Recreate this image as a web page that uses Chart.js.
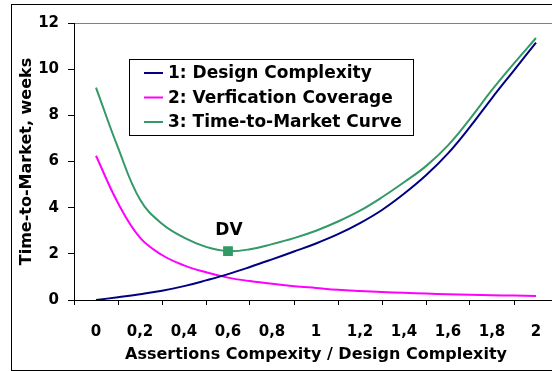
<!DOCTYPE html>
<html>
<head>
<meta charset="utf-8">
<script src="https://cdn.jsdelivr.net/npm/chart.js@4"></script>
<style>
  html, body { margin: 0; padding: 0; overflow: hidden; background: #fff; }
  #frame { position: absolute; left: 11px; top: 4px; width: 600px; height: 365px; border: 1px solid #000; }
</style>
</head>
<body>
<div id="frame"><canvas id="myChart" width="600" height="365"></canvas></div>
<script>
var xValues = [0, 0.1, 0.2, 0.3, 0.4, 0.5, 0.6, 0.7, 0.8, 0.9, 1, 1.1, 1.2, 1.3, 1.4, 1.5, 1.6, 1.7, 1.8, 1.9, 2];
var designComplexity = [0, 0.12, 0.25, 0.4, 0.6, 0.85, 1.12, 1.43, 1.76, 2.1, 2.45, 2.85, 3.33, 3.9, 4.6, 5.4, 6.35, 7.5, 8.75, 9.95, 11.15];
var verificationCoverage = [6.25, 4.2, 2.7, 1.95, 1.5, 1.2, 0.97, 0.82, 0.7, 0.6, 0.52, 0.44, 0.39, 0.35, 0.31, 0.28, 0.25, 0.23, 0.21, 0.19, 0.17];
var timeToMarket = [9.2, 6.6, 4.35, 3.3, 2.7, 2.3, 2.12, 2.2, 2.42, 2.68, 3.0, 3.4, 3.87, 4.45, 5.1, 5.8, 6.7, 7.85, 9.1, 10.25, 11.35];
var xTickLabels = ["0", "0,2", "0,4", "0,6", "0,8", "1", "1,2", "1,4", "1,6", "1,8", "2"];
var yTicks = [0, 2, 4, 6, 8, 10, 12];
var seriesNames = ["1: Design Complexity", "2: Verfication Coverage", "3: Time-to-Market Curve"];
var dvIndex = 6;

var FONT = "'DejaVu Sans', sans-serif";

function toPoints(ys) {
  return ys.map(function (y, i) { return { x: xValues[i], y: y }; });
}

var legendBox = {
  id: "legendBox",
  afterDraw: function (chart) {
    var ctx = chart.ctx;
    var left = 117, top = 54, w = 284, h = 76;
    ctx.save();
    ctx.fillStyle = "#fff";
    ctx.fillRect(left, top, w, h);
    ctx.strokeStyle = "#000";
    ctx.lineWidth = 1;
    ctx.strokeRect(left + 0.5, top + 0.5, w, h);
    ctx.font = "bold 17px " + FONT;
    ctx.textBaseline = "middle";
    chart.data.datasets.forEach(function (ds, i) {
      var y = top + 14 + i * 24.5;
      ctx.strokeStyle = ds.borderColor;
      ctx.lineWidth = 2;
      ctx.beginPath();
      ctx.moveTo(left + 15, y);
      ctx.lineTo(left + 34, y);
      ctx.stroke();
      ctx.fillStyle = "#000";
      ctx.fillText(ds.label, left + 39, y + 1);
    });

    // DV marker label
    var pt = chart.getDatasetMeta(2).data[dvIndex];
    ctx.textAlign = "center";
    ctx.fillText("DV", pt.x + 1, pt.y - 20);
    ctx.restore();
  }
};

var ctx2 = document.getElementById("myChart");

var myChart = new Chart(ctx2, {
  type: "line",
  data: {
    datasets: [
      {
        label: seriesNames[0],
        data: toPoints(designComplexity),
        borderColor: "#000080",
        borderWidth: 2,
        pointRadius: 0,
        tension: 0.4
      },
      {
        label: seriesNames[1],
        data: toPoints(verificationCoverage),
        borderColor: "#FF00FF",
        borderWidth: 2,
        pointRadius: 0,
        tension: 0.4
      },
      {
        label: seriesNames[2],
        data: toPoints(timeToMarket),
        borderColor: "#339966",
        backgroundColor: "#339966",
        borderWidth: 2,
        pointStyle: "rect",
        pointRadius: function (c) { return c.dataIndex === dvIndex ? 5.5 : 0; },
        tension: 0.4
      }
    ]
  },
  options: {
    responsive: false,
    animation: false,
    layout: { padding: { left: 0, top: 15, right: 54, bottom: 0 } },
    plugins: {
      legend: { display: false },
      tooltip: { enabled: false }
    },
    scales: {
      x: {
        type: "linear",
        min: -0.1,
        max: 2.1,
        afterBuildTicks: function (scale) {
          var ticks = [];
          for (var k = -1; k <= 21; k++) ticks.push({ value: k / 10 });
          scale.ticks = ticks;
        },
        afterFit: function (scale) { scale.height = 70; },
        border: { color: "#000", width: 1 },
        grid: {
          drawOnChartArea: false,
          tickLength: 5,
          tickColor: function (c) {
            var n = Math.round(c.tick.value * 10);
            return n % 2 === 0 ? "rgba(0,0,0,0)" : "#000";
          }
        },
        ticks: {
          autoSkip: false,
          maxRotation: 0,
          padding: 18,
          color: "#000",
          font: { family: FONT, size: 15, weight: "bold" },
          callback: function (value) {
            var n = Math.round(value * 10);
            if (n < 0 || n % 2 !== 0) return "";
            return xTickLabels[n / 2];
          }
        },
        title: {
          display: true,
          text: "Assertions Compexity / Design Complexity",
          color: "#000",
          font: { family: FONT, size: 16, weight: "bold" },
          padding: { top: 0, bottom: 6 }
        }
      },
      y: {
        min: 0,
        max: 12,
        afterBuildTicks: function (scale) {
          scale.ticks = yTicks.map(function (v) { return { value: v }; });
        },
        afterFit: function (scale) { scale.width = 62; },
        border: { color: "#000", width: 1 },
        grid: {
          tickLength: 6,
          tickColor: "#000",
          color: function (c) { return c.tick && c.tick.value === 12 ? "#808080" : "rgba(0,0,0,0)"; }
        },
        ticks: {
          padding: 9,
          color: "#000",
          font: { family: FONT, size: 15, weight: "bold" }
        },
        title: {
          display: true,
          text: "Time-to-Market, weeks",
          color: "#000",
          font: { family: FONT, size: 16, weight: "bold" },
          padding: { top: 5, bottom: 0 }
        }
      }
    }
  },
  plugins: [legendBox]
});
</script>
</body>
</html>
